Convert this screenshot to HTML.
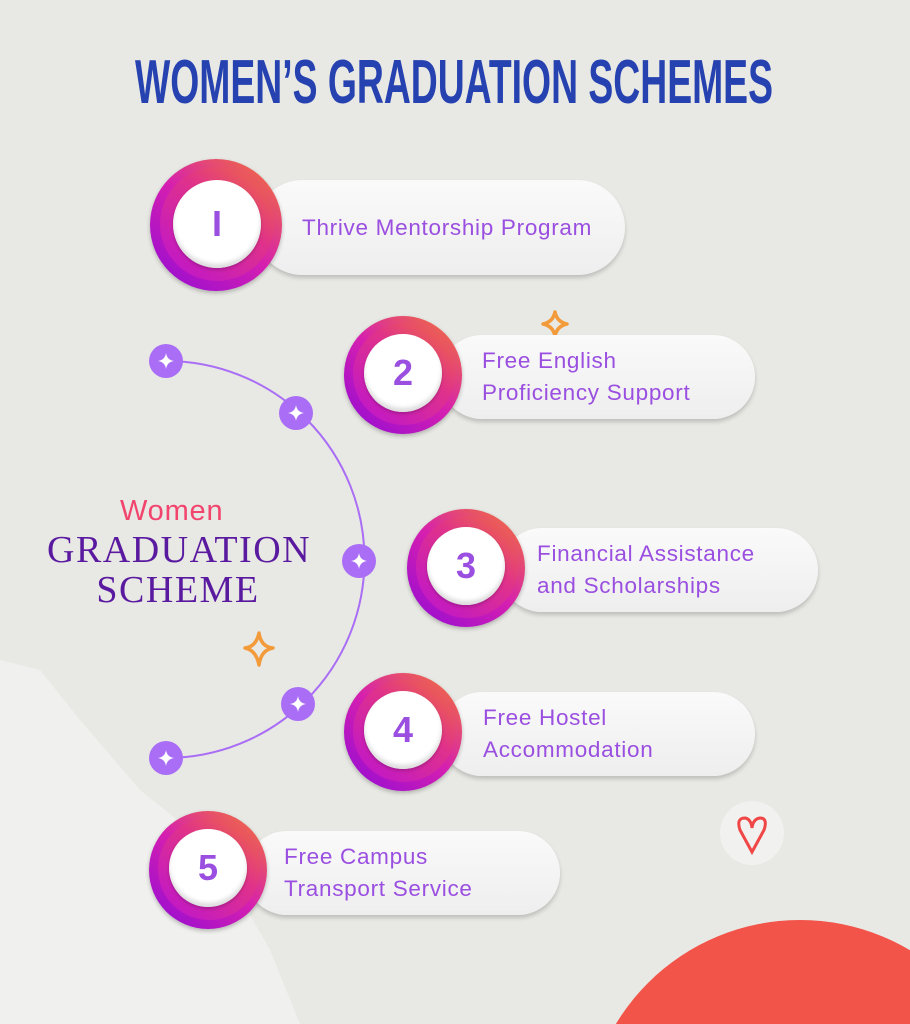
<!DOCTYPE html>
<html><head><style>
body{margin:0;width:910px;height:1024px;overflow:hidden;background:#e8e8e4;font-family:"Liberation Sans",sans-serif;position:relative}
.abs{position:absolute}
.title{left:135px;top:50px;color:#2642b0;font-weight:bold;font-size:62px;line-height:66px;white-space:nowrap;transform:scaleX(0.602);transform-origin:0 0;}
.pill{background:linear-gradient(#fafafa,#eeeeee);border-radius:48px;box-shadow:0 3px 4px rgba(0,0,0,.18);color:#9a4fe0;font-size:22.5px;line-height:32px;display:flex;align-items:center;letter-spacing:.7px;white-space:nowrap}
.badge{border-radius:50%;background:linear-gradient(40deg,#9d0fcf 10%,#d51fb0 50%,#f2703c 95%);box-shadow:0 2px 4px rgba(0,0,0,.25)}
.badge .in{position:absolute;border-radius:50%;background:linear-gradient(40deg,#bb12d4,#e0328a 60%,#f0703c);}
.badge .w{position:absolute;border-radius:50%;background:#fff;box-shadow:inset 0 -4px 4px #ddd,0 2px 3px rgba(0,0,0,.2);color:#9a4fe0;font-weight:bold;font-size:36px;display:flex;align-items:center;justify-content:center}
</style></head><body>
<svg class="abs" style="left:0;top:0" width="910" height="1024">
<polygon points="0,660 40,670 80,720 140,790 190,830 230,880 270,950 300,1024 0,1024" fill="#f0f0ee"/>
<circle cx="800" cy="1135" r="215" fill="#f2544a"/>
<path d="M166 361 A198 198 0 0 1 166 758" fill="none" stroke="#a96ef5" stroke-width="2"/>
<g fill="#a96ef5">
<circle cx="166" cy="361" r="17"/><circle cx="296" cy="413" r="17"/><circle cx="359" cy="561" r="17"/><circle cx="298" cy="704" r="17"/><circle cx="166" cy="758" r="17"/></g>
<g fill="#fff">
<path d="M166 353 Q167 360 174 361 Q167 362 166 369 Q165 362 158 361 Q165 360 166 353Z"/>
<path d="M296 405 Q297 412 304 413 Q297 414 296 421 Q295 414 288 413 Q295 412 296 405Z"/>
<path d="M359 553 Q360 560 367 561 Q360 562 359 569 Q358 562 351 561 Q358 560 359 553Z"/>
<path d="M298 696 Q299 703 306 704 Q299 705 298 712 Q297 705 290 704 Q297 703 298 696Z"/>
<path d="M166 750 Q167 757 174 758 Q167 759 166 766 Q165 759 158 758 Q165 757 166 750Z"/></g>
<g fill="none" stroke="#f39a3a" stroke-width="3.5" stroke-linejoin="round">
<path d="M259 633 Q261 647 273 648 Q261 650 259 665 Q256 650 245 648 Q256 647 259 633Z"/>
<path d="M555 312 Q557 322 567 324 Q557 326 555 336 Q553 326 543 324 Q553 322 555 312Z"/></g>
<circle cx="752" cy="833" r="32" fill="#f1f1ef"/>
<path d="M752 852 L740 830 Q736 818 745 818 Q751 819 752 828 Q753 819 760 818 Q768 818 764 830Z" fill="none" stroke="#f04646" stroke-width="3"/>
</svg>
<div class="abs title">WOMEN’S GRADUATION SCHEMES</div>
<div class="abs" style="left:120px;top:495px;color:#f2456e;font-size:29px;letter-spacing:.8px">Women</div>
<div class="abs" style="left:47px;top:530px;width:262px;text-align:center;color:#5a1aa0;font-family:'Liberation Serif',serif;font-size:38px;line-height:40px;letter-spacing:1.5px;white-space:nowrap">GRADUATION<br>SCHEME</div>

<div class="abs pill" style="left:255px;top:180px;width:370px;height:95px;padding-left:47px;box-sizing:border-box">Thrive Mentorship Program</div>
<div class="abs pill" style="left:440px;top:335px;width:315px;height:84px;padding-left:42px;box-sizing:border-box">Free English<br>Proficiency Support</div>
<div class="abs pill" style="left:500px;top:528px;width:318px;height:84px;padding-left:37px;box-sizing:border-box">Financial Assistance<br>and Scholarships</div>
<div class="abs pill" style="left:440px;top:692px;width:315px;height:84px;padding-left:43px;box-sizing:border-box">Free Hostel<br>Accommodation</div>
<div class="abs pill" style="left:245px;top:831px;width:315px;height:84px;padding-left:39px;box-sizing:border-box">Free Campus<br>Transport Service</div>

<div class="abs badge" style="left:150px;top:159px;width:132px;height:132px"><div class="in" style="left:10px;top:8px;width:114px;height:114px"></div><div class="w" style="left:23px;top:21px;width:88px;height:88px">I</div></div>
<div class="abs badge" style="left:344px;top:316px;width:118px;height:118px"><div class="in" style="left:9px;top:7px;width:102px;height:102px"></div><div class="w" style="left:20px;top:18px;width:78px;height:78px">2</div></div>
<div class="abs badge" style="left:407px;top:509px;width:118px;height:118px"><div class="in" style="left:9px;top:7px;width:102px;height:102px"></div><div class="w" style="left:20px;top:18px;width:78px;height:78px">3</div></div>
<div class="abs badge" style="left:344px;top:673px;width:118px;height:118px"><div class="in" style="left:9px;top:7px;width:102px;height:102px"></div><div class="w" style="left:20px;top:18px;width:78px;height:78px">4</div></div>
<div class="abs badge" style="left:149px;top:811px;width:118px;height:118px"><div class="in" style="left:9px;top:7px;width:102px;height:102px"></div><div class="w" style="left:20px;top:18px;width:78px;height:78px">5</div></div>
</body></html>
